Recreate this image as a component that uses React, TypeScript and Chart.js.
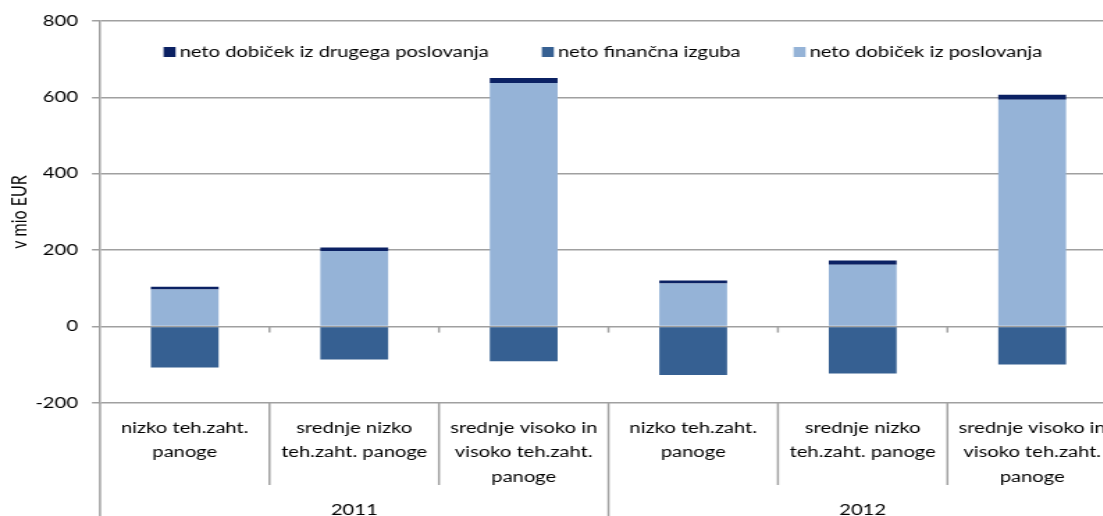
import React, { useEffect, useRef } from 'react';
import { Chart, registerables } from 'chart.js';

Chart.register(...registerables);

// ---------- data ----------
const categoryLabels: string[][] = [
  ['nizko teh.zaht.', 'panoge'],
  ['srednje nizko', 'teh.zaht. panoge'],
  ['srednje visoko in', 'visoko teh.zaht.', 'panoge'],
  ['nizko teh.zaht.', 'panoge'],
  ['srednje nizko', 'teh.zaht. panoge'],
  ['srednje visoko in', 'visoko teh.zaht.', 'panoge'],
];
const yearLabels = ['2011', '2012'];
const categoriesPerYear = 3;

const netoDobicekIzPoslovanja = [97, 198, 638, 113, 162, 594];
const netoFinancnaIzguba = [-107, -86, -91, -127, -123, -99];
const netoDobicekIzDrugegaPoslovanja = [7, 9, 13, 8, 11, 13];

const seriesNames = [
  'neto dobiček iz drugega poslovanja',
  'neto finančna izguba',
  'neto dobiček iz poslovanja',
];
const yMin = -200;
const yMax = 800;
const yStep = 200;
const yTitle = 'v mio EUR';

// ---------- style ----------
const COLOR_NAVY = '#0b2163';
const COLOR_MID = '#366092';
const COLOR_LIGHT = '#95b3d7';
const GRID = '#a0a0a0';
const FONT = 'Lato';
const FS = 14.5;

const VIEW_W = 1103;
const H = 516;
const PLOT_RIGHT = 1117; // display px
const PLOT_LEFT = 100;
const PLOT_TOP = 21;
const PLOT_BOTTOM = 403;

function computeStretch(): number {
  try {
    const c = document.createElement('canvas').getContext('2d');
    if (!c) return 1.37;
    c.font = `${FS}px ${FONT}`;
    const samples: [string, number][] = [
      ['neto dobiček iz drugega poslovanja', 310],
      ['neto finančna izguba', 184],
      ['neto dobiček iz poslovanja', 230],
      ['teh.zaht. panoge', 147],
    ];
    let t = 0;
    let m = 0;
    for (const [s, w] of samples) {
      t += w;
      m += c.measureText(s).width;
    }
    return m > 0 ? t / m : 1.37;
  } catch (e) {
    return 1.37;
  }
}

const S = computeStretch();
const CW = Math.ceil((PLOT_RIGHT + 8) / S);

const decor = {
  id: 'decor',
  afterDraw(chart: any) {
    const { ctx, chartArea, scales } = chart;
    const xs = scales.x;
    const ys = scales.y;
    const line = (x1: number, y1: number, x2: number, y2: number) => {
      ctx.beginPath();
      ctx.moveTo(x1, y1);
      ctx.lineTo(x2, y2);
      ctx.stroke();
    };
    ctx.save();
    ctx.strokeStyle = GRID;
    ctx.lineWidth = 1.5;
    // axis extension below plot
    line(chartArea.left, chartArea.bottom, chartArea.left, H);
    const n = categoryLabels.length;
    const y0 = ys.getPixelForValue(0);
    for (let i = 1; i <= n; i++) {
      const bx =
        i < n
          ? (xs.getPixelForValue(i - 1) + xs.getPixelForValue(i)) / 2
          : chartArea.right;
      const isGroup = i % categoriesPerYear === 0;
      line(bx, chartArea.bottom, bx, isGroup ? H : 485);
      if (i < n) line(bx, y0, bx, y0 + 6);
    }

    // category labels
    ctx.fillStyle = '#000';
    ctx.font = `${FS}px ${FONT}`;
    ctx.textAlign = 'center';
    ctx.textBaseline = 'middle';
    categoryLabels.forEach((lines, i) => {
      const cx = xs.getPixelForValue(i);
      lines.forEach((t, j) => ctx.fillText(t, cx, 428 + j * 24.5));
    });
    yearLabels.forEach((yr, g) => {
      const a = xs.getPixelForValue(g * categoriesPerYear);
      const b = xs.getPixelForValue(g * categoriesPerYear + categoriesPerYear - 1);
      ctx.fillText(yr, (a + b) / 2, 510);
    });

    // legend
    const items = [
      { name: seriesNames[0], color: COLOR_NAVY },
      { name: seriesNames[1], color: COLOR_MID },
      { name: seriesNames[2], color: COLOR_LIGHT },
    ];
    const boxW = 12 / S;
    const boxGap = 4 / S;
    const itemGap = 53 / S;
    const widths = items.map((it) => ctx.measureText(it.name).width);
    let total = 0;
    widths.forEach((w, i) => {
      total += boxW + boxGap + w + (i < widths.length - 1 ? itemGap : 0);
    });
    let cx = 603 / S - total / 2;
    ctx.textAlign = 'left';
    items.forEach((it, i) => {
      ctx.fillStyle = it.color;
      ctx.fillRect(cx, 47, boxW, 10);
      cx += boxW + boxGap;
      ctx.fillStyle = '#000';
      ctx.fillText(it.name, cx, 52);
      cx += widths[i] + itemGap;
    });
    ctx.restore();
  },
};

export default function App() {
  const ref = useRef<HTMLCanvasElement>(null);
  useEffect(() => {
    if (!ref.current) return;
    const chart = new Chart(ref.current, {
      type: 'bar',
      data: {
        labels: categoryLabels.map((l) => l.join(' ')),
        datasets: [
          {
            label: seriesNames[2],
            data: netoDobicekIzPoslovanja,
            backgroundColor: COLOR_LIGHT,
          },
          {
            label: seriesNames[1],
            data: netoFinancnaIzguba,
            backgroundColor: COLOR_MID,
          },
          {
            label: seriesNames[0],
            data: netoDobicekIzDrugegaPoslovanja,
            backgroundColor: COLOR_NAVY,
          },
        ],
      },
      options: {
        responsive: false,
        animation: false,
        devicePixelRatio: 1,
        layout: {
          padding: {
            left: 0,
            top: PLOT_TOP,
            right: CW - PLOT_RIGHT / S,
            bottom: H - PLOT_BOTTOM,
          },
        },
        datasets: {
          bar: { barPercentage: 0.4, categoryPercentage: 1 },
        },
        plugins: {
          legend: { display: false },
          tooltip: { enabled: false },
        },
        scales: {
          x: { stacked: true, display: false },
          y: {
            stacked: true,
            min: yMin,
            max: yMax,
            afterFit: (s: any) => {
              s.width = PLOT_LEFT / S;
            },
            ticks: {
              stepSize: yStep,
              color: '#000',
              font: { family: FONT, size: FS },
              padding: 14 / S,
            },
            grid: {
              color: GRID,
              lineWidth: 1.5,
              tickLength: 8 / S,
              drawTicks: true,
            },
            border: { display: true, color: GRID, width: 1.5 },
            title: {
              display: true,
              text: yTitle,
              color: '#000',
              font: { family: FONT, size: 16 },
              padding: { top: 4, bottom: 0 },
            },
          },
        },
      },
      plugins: [decor],
    } as any);
    return () => chart.destroy();
  }, []);
  return (
    <div
      style={{
        position: 'fixed',
        left: 0,
        top: 0,
        width: VIEW_W,
        height: H,
        overflow: 'hidden',
        background: '#fff',
      }}
    >
      <canvas
        ref={ref}
        width={CW}
        height={H}
        style={{ display: 'block', width: `${CW * S}px`, height: `${H}px` }}
      />
    </div>
  );
}
